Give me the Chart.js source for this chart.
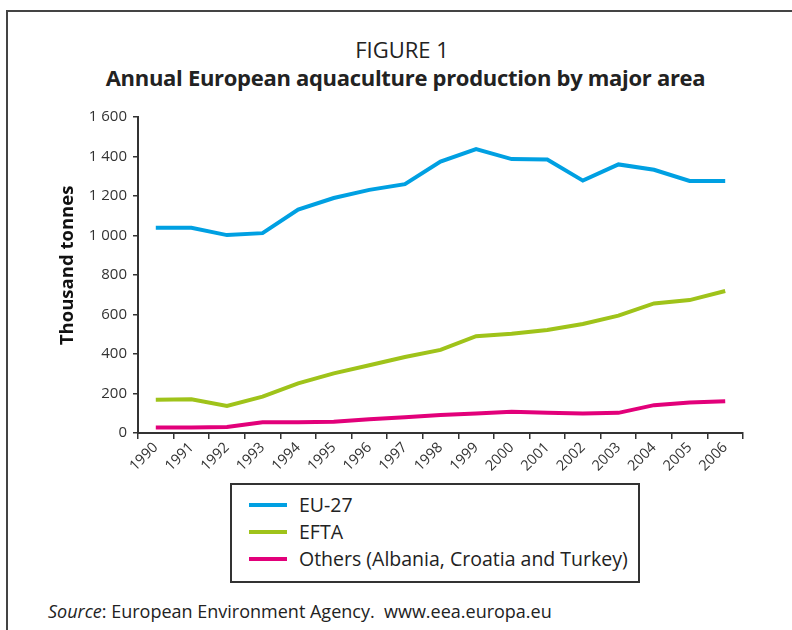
<!DOCTYPE html>
<html>
<head>
<meta charset="utf-8">
<script src="https://cdn.jsdelivr.net/npm/chart.js@4.4.1/dist/chart.umd.min.js"></script>
<style>
  html, body { margin: 0; padding: 0; background: #fff; }
  body { width: 792px; height: 630px; position: relative; overflow: hidden; font-family: "Open Sans", sans-serif; color: #222; }
  .frame { position: absolute; left: 6px; top: 10px; width: 800px; height: 640px; border-left: 2px solid #444; border-top: 2px solid #444; box-sizing: border-box; }
  .fig { position: absolute; left: 0; width: 804px; text-align: center; top: 34px; font-size: 22px; }
  .title { position: absolute; left: 0; width: 811px; text-align: center; top: 62px; font-size: 22px; font-weight: bold; letter-spacing: -0.3px; }
  #wrap { position: absolute; left: 0; top: 0; width: 792px; height: 480px; }
  .legend { position: absolute; left: 230px; top: 483px; width: 410px; height: 100px; border: 2px solid #333; box-sizing: border-box; padding-top: 6px; }
  .item { height: 27px; display: flex; align-items: center; font-size: 19.5px; }
  .swatch { width: 38px; height: 4px; margin-left: 17px; margin-right: 12px; }
  .source { position: absolute; left: 48px; top: 599px; font-size: 18px; }
</style>
</head>
<body>
<div class="frame"></div>
<div class="fig">FIGURE 1</div>
<div class="title">Annual European aquaculture production by major area</div>
<div id="wrap"><canvas id="chart"></canvas></div>
<div class="legend" id="legend"></div>
<div class="source"><i>Source</i>: European Environment Agency.&nbsp; www.eea.europa.eu</div>
<script>
// Years on the x axis
const years = ['1990', '1991', '1992', '1993', '1994', '1995', '1996', '1997', '1998',
  '1999', '2000', '2001', '2002', '2003', '2004', '2005', '2006'];

// Production, thousand tonnes
const eu27 = [1039, 1039, 1002, 1012, 1131, 1190, 1231, 1260, 1374, 1437, 1387, 1385, 1278, 1360, 1333, 1276, 1276];
const efta = [168, 171, 137, 184, 251, 302, 343, 385, 421, 490, 502, 522, 552, 594, 656, 673, 719];
const others = [28, 28, 30, 54, 55, 57, 70, 80, 91, 99, 107, 102, 99, 102, 141, 154, 161];

const yTicks = [0, 200, 400, 600, 800, 1000, 1200, 1400, 1600];

const series = [
  { label: 'EU-27', data: eu27, color: '#00a0e2' },
  { label: 'EFTA', data: efta, color: '#9fc31a' },
  { label: 'Others (Albania, Croatia and Turkey)', data: others, color: '#e2007a' }
];

// thousands separator is a space in the figure
const fmt = v => v >= 1000 ? Math.floor(v / 1000) + ' ' + String(v % 1000).padStart(3, '0') : String(v);

const axisColor = '#333';

new Chart(document.getElementById('chart'), {
  type: 'line',
  data: {
    labels: years,
    datasets: series.map(s => ({
      label: s.label,
      data: s.data,
      borderColor: s.color,
      backgroundColor: s.color,
      borderWidth: 4,
      pointRadius: 0,
      tension: 0,
      fill: false
    }))
  },
  options: {
    responsive: true,
    maintainAspectRatio: false,
    animation: false,
    layout: { padding: { left: 56, right: 49, top: 117, bottom: 0 } },
    plugins: {
      legend: { display: false },
      tooltip: { enabled: false }
    },
    scales: {
      x: {
        offset: true,
        grid: { offset: true, drawOnChartArea: false, drawTicks: true, tickLength: 6, color: axisColor, lineWidth: 1.5 },
        border: { display: true, color: axisColor, width: 2 },
        ticks: {
          color: axisColor,
          font: { family: 'Open Sans', size: 14.5 },
          minRotation: 45,
          maxRotation: 45,
          autoSkip: false,
          padding: 0
        },
        afterFit: scale => { scale.height = 47; }
      },
      y: {
        min: 0,
        max: 1600,
        afterBuildTicks: scale => { scale.ticks = yTicks.map(v => ({ value: v })); },
        grid: { drawOnChartArea: false, drawTicks: true, tickLength: 5, color: axisColor, lineWidth: 1.5 },
        border: { display: true, color: axisColor, width: 2 },
        ticks: {
          color: axisColor,
          font: { family: 'Open Sans', size: 15 },
          padding: 6,
          callback: v => fmt(v)
        },
        title: {
          display: true,
          // leading spaces nudge the rotated title up a little, as in the figure
          text: '\u00a0\u00a0\u00a0\u00a0Thousand tonnes',
          color: '#111',
          font: { family: 'Open Sans', size: 18.5, weight: 'bold' },
          padding: { top: 1, bottom: 0 }
        },
        afterFit: scale => { scale.width = 82; }
      }
    }
  }
});

// HTML legend built from the same series
const legend = document.getElementById('legend');
series.forEach(s => {
  const row = document.createElement('div');
  row.className = 'item';
  const sw = document.createElement('span');
  sw.className = 'swatch';
  sw.style.background = s.color;
  const tx = document.createElement('span');
  tx.textContent = s.label;
  row.appendChild(sw);
  row.appendChild(tx);
  legend.appendChild(row);
});
</script>
</body>
</html>
